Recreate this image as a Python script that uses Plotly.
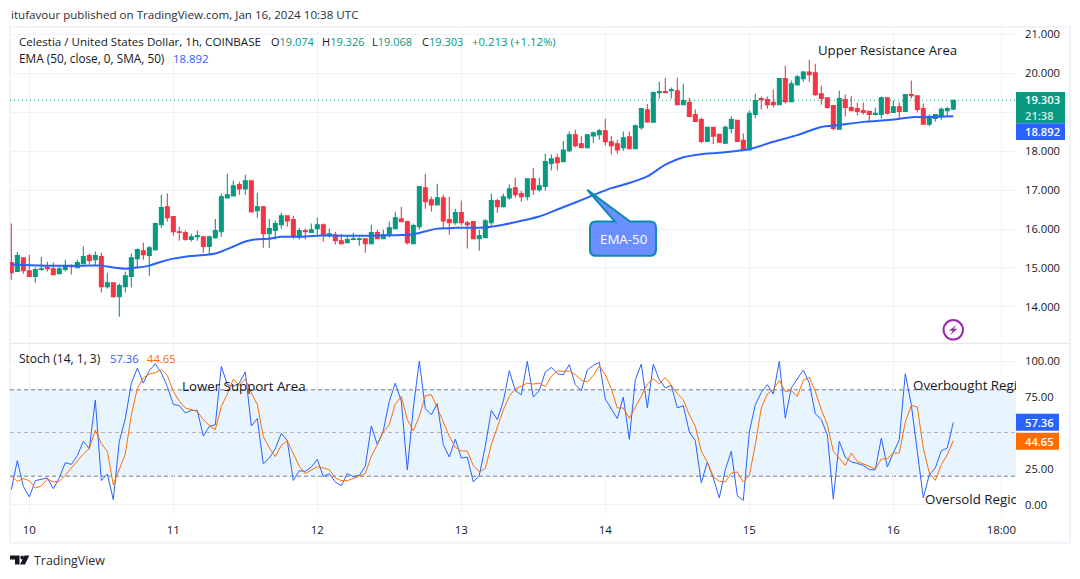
import pandas as pd
import plotly.graph_objects as go
from plotly.subplots import make_subplots

bars = """15.14,16.14,14.70,14.88
14.91,15.41,14.91,15.32
15.26,15.26,14.85,14.93
14.93,15.34,14.78,14.78
14.78,15.01,14.62,14.96
14.96,15.29,14.93,14.98
15.01,15.16,14.91,14.98
14.98,15.14,14.83,14.83
14.85,15.03,14.83,14.98
14.96,15.21,14.91,15.06
15.06,15.09,14.83,15.03
15.01,15.21,15.01,15.14
15.11,15.55,15.09,15.29
15.32,15.37,15.11,15.19
15.21,15.42,15.06,15.32
15.29,15.39,14.37,14.52
14.52,14.88,14.47,14.62
14.62,14.62,14.24,14.26
14.26,14.60,13.75,14.55
14.52,14.91,14.37,14.80
14.78,15.37,14.50,15.26
15.24,15.50,15.01,15.47
15.44,15.65,15.21,15.34
15.32,15.57,14.80,15.52
15.47,16.16,15.44,16.14
16.11,16.88,16.03,16.55
16.57,16.91,16.19,16.29
16.32,16.34,15.83,15.93
15.93,16.06,15.70,15.91
15.91,15.96,15.70,15.73
15.73,15.88,15.68,15.80
15.80,15.96,15.70,15.83
15.80,15.83,15.39,15.55
15.55,15.83,15.34,15.80
15.78,16.26,15.75,15.96
15.93,16.91,15.80,16.83
16.80,17.42,16.80,16.88
16.85,17.24,16.85,17.11
17.14,17.21,16.88,17.03
17.03,17.39,16.88,17.24
17.24,17.24,16.44,16.44
16.47,16.93,16.29,16.57
16.57,16.60,15.52,15.88
15.88,16.26,15.52,16.01
15.96,16.21,15.73,16.14
16.11,16.42,16.01,16.34
16.34,16.34,16.06,16.21
16.24,16.34,15.75,15.80
15.80,16.03,15.73,15.96
15.96,16.01,15.73,15.93
15.91,16.14,15.91,15.98
16.01,16.29,15.85,16.11
16.11,16.14,15.68,15.85
15.83,16.01,15.78,15.88
15.85,15.93,15.60,15.70
15.70,15.88,15.60,15.62
15.65,15.80,15.65,15.73
15.73,15.90,15.71,15.75
15.73,15.79,15.57,15.75
15.75,15.75,15.39,15.62
15.62,16.11,15.60,15.91
15.91,15.98,15.75,15.75
15.75,15.98,15.75,15.85
15.85,16.19,15.78,16.03
16.01,16.44,16.01,16.29
16.26,16.57,16.19,16.19
16.19,16.21,15.60,15.65
15.62,16.14,15.62,16.09
16.06,17.09,15.98,17.09
17.06,17.42,16.52,16.70
16.75,16.83,16.44,16.62
16.62,17.16,16.62,16.80
16.80,16.88,16.01,16.21
16.24,16.83,15.85,16.16
16.16,16.52,16.11,16.42
16.42,16.73,16.09,16.16
16.16,16.21,15.50,16.11
16.19,16.19,15.75,15.75
15.75,15.98,15.44,15.83
15.78,16.26,15.78,16.21
16.16,16.91,16.09,16.73
16.73,16.78,16.42,16.57
16.57,16.91,16.55,16.83
16.80,17.14,16.75,17.03
17.06,17.32,16.80,16.88
16.91,16.98,16.70,16.83
16.83,17.29,16.73,17.29
17.29,17.57,16.88,17.01
17.01,17.32,16.96,17.11
17.09,17.93,16.98,17.73
17.68,17.91,17.50,17.80
17.83,17.93,17.50,17.70
17.73,18.26,17.73,18.03
18.01,18.50,17.98,18.42
18.42,18.55,18.09,18.14
18.19,18.39,18.09,18.09
18.09,18.42,18.09,18.42
18.39,18.50,18.21,18.47
18.42,18.57,18.29,18.52
18.52,18.83,18.14,18.24
18.24,18.39,17.91,18.14
18.19,18.29,17.93,18.03
18.09,18.50,18.01,18.34
18.37,18.50,18.06,18.06
18.06,18.68,18.06,18.65
18.60,19.11,18.55,19.09
19.06,19.21,18.73,18.75
18.74,19.53,18.74,19.50
19.50,19.78,19.35,19.53
19.53,19.88,19.50,19.50
19.55,19.63,19.35,19.58
19.55,19.88,19.19,19.19
19.19,19.73,19.19,19.30
19.25,19.37,18.86,18.89
18.94,19.07,18.74,18.76
18.81,18.86,18.20,18.25
18.25,18.61,18.25,18.61
18.61,18.61,18.18,18.38
18.43,18.43,18.23,18.23
18.20,18.66,18.18,18.61
18.58,18.89,18.46,18.81
18.79,18.79,18.25,18.25
18.28,18.46,18.03,18.03
18.03,19.04,18.03,18.97
18.94,19.47,18.84,19.30
19.35,19.40,19.07,19.32
19.32,19.40,19.09,19.19
19.25,19.58,19.12,19.19
19.19,19.86,19.19,19.86
19.86,20.19,19.22,19.27
19.27,19.81,19.27,19.73
19.70,19.96,19.70,19.91
19.86,20.06,19.78,20.03
20.03,20.34,19.78,19.96
20.01,20.24,19.42,19.45
19.47,19.68,19.19,19.35
19.37,19.37,19.09,19.12
19.17,19.17,18.53,18.58
18.56,19.55,18.56,19.35
19.32,19.45,18.89,19.12
19.12,19.42,19.02,19.04
19.09,19.25,18.92,19.02
19.04,19.25,18.94,18.99
19.02,19.02,18.76,18.94
18.94,19.12,18.92,18.97
18.94,19.40,18.84,19.37
19.37,19.37,18.94,18.97
18.99,19.30,18.99,19.14
19.14,19.25,18.81,19.02
19.02,19.45,19.02,19.45
19.45,19.81,19.35,19.42
19.42,19.42,18.99,19.07
19.09,19.22,18.69,18.69
18.69,18.94,18.64,18.89
18.84,18.94,18.76,18.94
18.89,19.12,18.79,19.07
19.04,19.14,18.89,19.09
19.074,19.326,19.068,19.303"""
rows = [[float(v) for v in r.split(",")] for r in bars.splitlines()]
opens = [r[0] for r in rows]
highs = [r[1] for r in rows]
lows = [r[2] for r in rows]
closes = [r[3] for r in rows]

ema_bar = [0, 6, 12, 15, 17, 19, 21, 23, 25, 27, 29, 32, 34, 37, 39, 41, 43, 45, 48, 51, 54, 57, 60, 66, 68, 71, 74, 79, 82, 85,
           88, 91, 94, 97, 100, 103, 106, 109, 112, 115, 118, 123, 127, 131, 135, 138, 142, 147, 150, 153, 157]
ema_val = [15.09, 15.06, 15.06, 15.06, 15.01, 14.98, 15.01, 15.06, 15.16, 15.24, 15.29, 15.33, 15.37, 15.55, 15.68, 15.74, 15.75,
           15.80, 15.80, 15.83, 15.83, 15.83, 15.83, 15.85, 15.90, 16.01, 16.03, 16.04, 16.11, 16.21,
           16.32, 16.50, 16.68, 16.87, 17.05, 17.18, 17.35, 17.65, 17.84, 17.92, 17.96, 18.05, 18.24, 18.41, 18.62, 18.67, 18.75,
           18.81, 18.87, 18.87, 18.892]

stoch_k = [10.6, 30.8, 13.0, 5.6, 16.9, 18.1, 18.8, 11.3, 18.8, 29.4, 28.2, 34.3, 44.2, 39.1, 72.9, 16.9, 21.5, 3.7, 44.2, 60.0,
           84.5, 95.1, 84.7, 93.3, 98.1, 91.7, 82.4, 69.9, 69.0, 63.9, 65.7, 65.7, 47.9, 54.6, 55.8, 96.3, 83.6, 82.4, 84.7, 92.4,
           54.9, 60.0, 28.5, 32.6, 39.1, 49.8, 44.7, 17.1, 23.8, 23.4, 26.4, 31.7, 19.7, 21.8, 16.0, 13.4, 21.8, 19.7, 20.6,
           26.9, 54.9, 41.9, 51.6, 72.0, 84.7, 72.0, 24.3, 67.4, 100.0, 66.9, 62.7, 70.4, 41.9, 33.3, 45.8, 32.6, 33.3, 16.0, 20.6,
           40.7, 65.7, 59.3, 72.0, 93.3, 79.4, 76.6, 99.8, 75.0, 79.4, 92.4, 95.6, 91.2, 90.5, 97.5, 83.6, 79.4, 93.8, 97.0, 99.1,
           73.6, 66.9, 60.0, 75.0, 45.6, 87.0, 97.9, 67.4, 97.9, 87.0, 81.3, 83.1, 67.4, 69.0, 50.7, 44.7, 15.3, 29.9,
           18.8, 4.9, 24.5, 37.3, 6.5, 3.2, 50.7, 69.7, 78.2, 83.6, 77.1, 99.8, 60.4, 81.3, 87.5, 93.8, 84.7, 63.4, 59.3, 48.8,
           4.2, 44.2, 33.1, 29.9, 28.9, 27.5, 24.5, 24.5, 46.5, 26.4, 36.1, 45.4, 91.2, 69.7, 37.3, 4.9, 21.1, 25.7, 37.7, 39.6, 57.36]
stoch_d = [20.1, 16.4, 18.3, 16.9, 11.8, 13.2, 18.1, 16.0, 16.4, 20.6, 25.7, 30.8, 35.4, 39.1, 52.1, 42.6, 37.3, 14.1, 24.3, 35.4,
           62.7, 80.8, 88.2, 91.0, 91.9, 94.0, 90.0, 78.9, 72.0, 67.4, 66.2, 65.0, 59.3, 55.3, 52.3, 68.5, 77.1, 87.5, 83.1, 87.5,
           77.8, 69.7, 47.5, 39.6, 33.6, 41.4, 44.7, 36.1, 26.9, 21.8, 24.3, 26.6, 25.7, 24.5, 18.8, 16.9, 16.9, 18.3, 20.1,
           21.8, 33.8, 41.9, 50.7, 55.8, 70.1, 75.5, 59.3, 51.6, 61.6, 75.9, 76.6, 67.4, 58.1, 47.7, 40.0, 37.5, 37.5, 27.3, 23.1,
           25.2, 41.9, 53.5, 66.0, 75.5, 80.8, 82.6, 84.7, 84.0, 84.7, 82.2, 89.4, 93.1, 92.8, 93.1, 90.5, 86.8, 85.4, 90.0, 96.5,
           90.5, 80.8, 67.4, 67.4, 60.2, 67.4, 75.5, 84.0, 87.7, 84.0, 88.7, 83.1, 77.3, 73.1, 62.7, 54.6, 37.3, 29.9,
           19.7, 16.4, 16.0, 22.2, 22.9, 16.0, 20.4, 41.9, 67.4, 77.1, 80.1, 86.6, 78.9, 79.4, 75.5, 86.6, 88.7, 78.9, 66.2, 55.8,
           37.3, 32.6, 27.5, 36.1, 30.3, 28.5, 26.6, 25.0, 31.9, 32.2, 36.1, 36.1, 57.6, 69.2, 68.1, 39.6, 22.2, 17.1, 28.0, 35.0, 44.65]

time_ticks = ["2024-01-10", "2024-01-11", "2024-01-12", "2024-01-13", "2024-01-14", "2024-01-15", "2024-01-16", "2024-01-16 18:00"]
time_labels = ["10", "11", "12", "13", "14", "15", "16", "18:00"]
price_ticks = [14, 15, 16, 17, 18, 19, 20, 21]
stoch_ticks = [0, 25, 50, 75, 100]
stoch_labels = ["0.00", "25.00", "", "75.00", "100.00"]

W, H = 1080, 579
UP, DOWN, BLUE, ORANGE = "#089981", "#f23645", "#2962ff", "#ff6d00"
GRID = "#f0f3fa"
INK = "#131722"
FONT = "Open Sans"
def px(v): return v / W
def py(v): return 1 - (v - 2 + 1.6 * v / H) / H

t0 = pd.Timestamp("2024-01-09 21:00")
times = [t0 + pd.Timedelta(hours=i) for i in range(len(closes))]
ema_times = [times[i] for i in ema_bar]
x_range = [t0 - pd.Timedelta(hours=0.22), t0 + pd.Timedelta(hours=167.45)]

fig = make_subplots(rows=2, cols=1, shared_xaxes=False)
fig.add_trace(go.Candlestick(x=times, open=opens, high=highs, low=lows, close=closes, whiskerwidth=0,
                             increasing=dict(line=dict(color=UP, width=1.1), fillcolor=UP),
                             decreasing=dict(line=dict(color=DOWN, width=1.1), fillcolor=DOWN),
                             showlegend=False), row=1, col=1)
fig.add_trace(go.Scatter(x=ema_times, y=ema_val, mode="lines", line=dict(color=BLUE, width=2, shape="spline", smoothing=0.6),
                         showlegend=False), row=1, col=1)
fig.add_trace(go.Scatter(x=times, y=stoch_k, mode="lines", line=dict(color=BLUE, width=1), showlegend=False), row=2, col=1)
fig.add_trace(go.Scatter(x=times, y=stoch_d, mode="lines", line=dict(color=ORANGE, width=1), showlegend=False), row=2, col=1)
# drawing labels that run past the pane edge and are cut off there
fig.add_trace(go.Scatter(x=[t0 + pd.Timedelta(hours=150.3), t0 + pd.Timedelta(hours=152.3)], y=[82.2, 3.0], mode="text",
                         text=["Overbought Region", "Oversold Region"], textposition="middle right",
                         textfont=dict(family=FONT, size=13.3, color=INK), cliponaxis=True, showlegend=False), row=2, col=1)

fig.update_xaxes(range=x_range, tickmode="array", tickvals=time_ticks, ticktext=time_labels, showgrid=True, gridcolor=GRID,
                 gridwidth=1, zeroline=False, showline=False, ticks="", rangeslider_visible=False)
fig.update_xaxes(showticklabels=False, domain=[px(10), px(1016)], row=1, col=1)
fig.update_xaxes(showticklabels=True, domain=[px(10), px(1016)], tickfont=dict(family=FONT, size=11.5, color=INK),
                 ticklabelstandoff=6, row=2, col=1)
fig.update_yaxes(side="right", showgrid=True, gridcolor=GRID, gridwidth=1, zeroline=False, showline=False, ticks="",
                 tickfont=dict(family=FONT, size=11.2, color=INK), ticklabelstandoff=8)
fig.update_yaxes(domain=[py(343), py(28)], range=[13.08, 21.16], tickmode="array", tickvals=price_ticks, tickformat=".3f", row=1, col=1)
fig.update_yaxes(domain=[py(516), py(344)], range=[-7.4, 112], tickmode="array", tickvals=stoch_ticks, ticktext=stoch_labels, row=2, col=1)

shapes = [
    dict(type="rect", xref="x2 domain", yref="y2", x0=0, x1=1, y0=20, y1=80, fillcolor="rgba(33,150,243,0.10)", line_width=0, layer="below"),
    dict(type="rect", xref="paper", yref="paper", x0=px(10), x1=px(1070), y0=py(543), y1=py(27), line=dict(color=GRID, width=2), fillcolor="rgba(0,0,0,0)", layer="below"),
    dict(type="line", xref="paper", yref="paper", x0=px(10), x1=px(1070), y0=py(343.5), y1=py(343.5), line=dict(color="#e0e3eb", width=1), layer="below"),
    dict(type="line", xref="x domain", yref="y", x0=0, x1=1, y0=closes[-1], y1=closes[-1], line=dict(color=UP, width=1, dash="1px,3px"), layer="below"),
]
for level in (80, 50, 20):
    shapes.append(dict(type="line", xref="x2 domain", yref="y2", x0=0, x1=1, y0=level, y1=level,
                       line=dict(color="#787b86", width=1, dash="4px,3px"), layer="below"))

def pth(cmds):
    out = []
    for c in cmds:
        if len(c) == 1:
            out.append(c[0])
        else:
            nums = c[1:]
            pts = [f"{px(nums[i]):.5f},{py(nums[i + 1]):.5f}" for i in range(0, len(nums), 2)]
            out.append(c[0] + " " + " ".join(pts))
    return " ".join(out)

callout = pth([("M", 596, 221.7), ("L", 615, 221.7), ("L", 587.3, 190), ("L", 630, 221.7), ("L", 650, 221.7), ("Q", 656, 221.7, 656, 227.7),
               ("L", 656, 250), ("Q", 656, 256, 650, 256), ("L", 596, 256), ("Q", 590, 256, 590, 250), ("L", 590, 227.7),
               ("Q", 590, 221.7, 596, 221.7), ("Z",)])
shapes.append(dict(type="path", xref="paper", yref="paper", path=callout, fillcolor="#6b8fff", line=dict(color="#0b8bb3", width=2), layer="above"))
# lightning badge
shapes.append(dict(type="circle", xref="paper", yref="paper", x0=px(943.5), x1=px(963), y0=py(339.8), y1=py(320.3), line=dict(color="#9c27b0", width=2), fillcolor="white"))
shapes.append(dict(type="path", xref="paper", yref="paper", fillcolor="#9c27b0", line_width=0,
                   path=pth([("M", 956.5, 325), ("L", 949, 331), ("L", 952.8, 331), ("L", 950, 335.5), ("L", 957.5, 329), ("L", 953.6, 329), ("Z",)])))
# price tags
for x1, y0, y1, col in [(1065, 92, 123.3, UP), (1065, 123.3, 140, BLUE), (1059, 414, 431, BLUE), (1059, 433, 450, ORANGE)]:
    shapes.append(dict(type="rect", xref="paper", yref="paper", x0=px(1016), x1=px(x1), y0=py(y1), y1=py(y0), fillcolor=col, line_width=0, layer="above"))
# logo
shapes.append(dict(type="path", xref="paper", yref="paper", fillcolor="#131722", line_width=0,
                   path=pth([("M", 10, 556), ("L", 19.5, 556), ("L", 19.5, 565), ("L", 15, 565), ("L", 15, 560), ("L", 10, 560), ("Z",)])))
shapes.append(dict(type="circle", xref="paper", yref="paper", x0=px(20.3), x1=px(24), y0=py(559.8), y1=py(556), fillcolor="#131722", line_width=0))
shapes.append(dict(type="path", xref="paper", yref="paper", fillcolor="#131722", line_width=0,
                   path=pth([("M", 24.5, 556), ("L", 29.3, 556), ("L", 25, 565), ("L", 20, 565), ("Z",)])))
fig.update_layout(shapes=shapes)

def note(x, y, text, size=12, color=INK, anchor="left", weight=None):
    fig.add_annotation(xref="paper", yref="paper", x=px(x), y=py(y), text=text, showarrow=False, xanchor=anchor, yanchor="middle",
                       font=dict(family=FONT, size=size, color=color, weight=weight), borderpad=0, align="left")

note(10, 15, "itufavour published on TradingView.com, Jan 16, 2024 10:38 UTC", 11.6, "#2a2e39")
note(18, 42, "Celestia / United States Dollar, 1h, COINBASE", 11.6, INK)
for x, lab, val in [(270, "O", "19.074"), (321, "H", "19.326"), (371, "L", "19.068"), (421, "C", "19.303")]:
    note(x, 42, f'{lab}<span style="color:{UP}">{val}</span>', 11, INK)
note(471, 42, "+0.213 (+1.12%)", 11.4, UP)
note(18, 58.5, "EMA (50, close, 0, SMA, 50)", 11.8, INK)
note(172, 58.5, "18.892", 11.4, BLUE)
note(18, 358.5, "Stoch (14, 1, 3)", 12, INK)
note(109, 358.5, "57.36", 11.2, BLUE)
note(146, 358.5, "44.65", 11.2, ORANGE)
note(817, 50, "Upper Resistance Area", 13.2, INK)
note(181, 386, "Lower Support Area", 13.3, INK)
note(623, 239, "EMA-50", 13.3, "#ffffff", "center")
note(1024, 99.8, "19.303", 11.2, "#ffffff", weight=600)
note(1024, 115.7, "21:38", 11.2, "#d0ebe5", weight=600)
note(1024, 131.5, "18.892", 11.2, "#ffffff", weight=600)
note(1024, 422.5, "57.36", 11.2, "#ffffff", weight=600)
note(1024, 441.5, "44.65", 11.2, "#ffffff", weight=600)
note(33, 561, "TradingView", 12.4, "#2a2e39")

fig.update_layout(width=W, height=H, margin=dict(l=0, r=0, t=0, b=0), paper_bgcolor="white", plot_bgcolor="white",
                  showlegend=False, hovermode=False, boxgap=0.35, boxgroupgap=0)
fig.write_html("out.html", config={"displayModeBar": False},
               post_script="document.body.style.margin='0';document.documentElement.style.overflow='hidden';")
